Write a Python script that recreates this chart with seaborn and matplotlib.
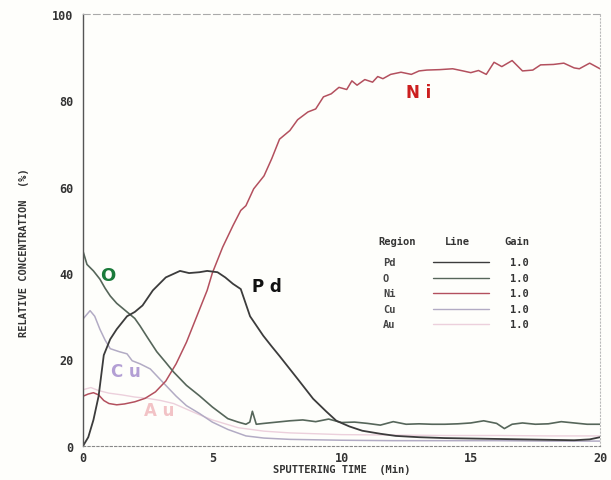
import matplotlib
matplotlib.use("Agg")
import matplotlib.pyplot as plt
import seaborn as sns
import pandas as pd
from matplotlib.ticker import MultipleLocator

# depth profile data (time in min, concentration in %)
ni_t = [0, 0.2, 0.4, 0.6, 0.8, 1.0, 1.3, 1.6, 2.0, 2.4, 2.8, 3.2, 3.6, 4.0, 4.4, 4.8, 5.0,
        5.4, 5.8, 6.1, 6.3, 6.6, 7.0, 7.3, 7.6, 8.0, 8.3, 8.7, 9.0, 9.3, 9.6, 9.9, 10.2,
        10.4, 10.6, 10.9, 11.2, 11.4, 11.6, 11.9, 12.3, 12.7, 13.0, 13.3, 13.8, 14.3, 14.7,
        15.0, 15.3, 15.6, 15.9, 16.2, 16.6, 17.0, 17.4, 17.7, 18.2, 18.6, 19.0, 19.2, 19.6, 20.0]
ni_c = [11.5, 12, 12.3, 11.8, 10.5, 9.8, 9.5, 9.7, 10.2, 11, 12.5, 15, 19, 24, 30, 36, 40,
        46, 51, 54.5, 55.6, 59.5, 62.5, 66.5, 71, 73, 75.5, 77.3, 78, 80.8, 81.5, 83, 82.5,
        84.5, 83.5, 84.8, 84.2, 85.5, 85, 86, 86.5, 86, 86.8, 87, 87.1, 87.3, 86.8,
        86.4, 86.9, 86, 88.8, 87.8, 89.2, 86.8, 87, 88.2, 88.3, 88.6, 87.5, 87.3, 88.6, 87.3]

pd_t = [0, 0.2, 0.4, 0.6, 0.8, 1.05, 1.3, 1.7, 2.0, 2.3, 2.7, 3.2, 3.75, 4.1, 4.5, 4.8, 5.2,
        5.5, 5.8, 6.1, 6.46, 6.97, 7.3, 7.6, 8.3, 8.9, 9.4, 9.8, 10.3, 10.8, 11.5, 12.1, 13,
        14, 15, 16, 17, 18, 19, 19.6, 20]
pd_c = [0, 2, 6, 11.5, 21, 24.7, 27, 30, 31, 32.5, 36, 39, 40.5, 40, 40.2, 40.5, 40.2,
        39, 37.5, 36.3, 30, 25.5, 23, 20.8, 15.5, 10.9, 8, 5.8, 4.5, 3.5, 2.8, 2.3, 2,
        1.8, 1.7, 1.6, 1.5, 1.4, 1.3, 1.5, 2]

o_t = [0, 0.15, 0.4, 0.65, 0.85, 1.05, 1.3, 1.7, 2.0, 2.2, 2.5, 2.85, 3.2, 3.5, 4.0, 4.5,
       5.0, 5.6, 6.0, 6.3, 6.45, 6.55, 6.7, 7.0, 7.5, 8.0, 8.5, 9.0, 9.5, 10, 10.5, 11,
       11.5, 12, 12.5, 13, 13.5, 14, 14.5, 15, 15.5, 16, 16.3, 16.6, 17, 17.5, 18, 18.5,
       19, 19.5, 20]
o_c = [45, 42, 40.5, 38.6, 36.5, 34.7, 33, 31, 29.5, 27.8, 25, 21.8, 19.3, 17.1, 14, 11.6,
       9, 6.3, 5.5, 5, 5.5, 8, 5, 5.2, 5.5, 5.8, 6, 5.6, 6.2, 5.4, 5.5, 5.2,
       4.8, 5.6, 5.0, 5.1, 5, 5.0, 5.1, 5.3, 5.8, 5.2, 4, 5.0, 5.3, 5.0, 5.1, 5.6,
       5.3, 5.0, 5.0]

cu_t = [0, 0.27, 0.45, 0.65, 0.85, 1.05, 1.4, 1.7, 1.9, 2.2, 2.6, 3.2, 3.6, 4.0, 4.5, 5.0,
        5.6, 6.3, 7, 8, 9, 10, 12, 14, 16, 18, 20]
cu_c = [29.4, 31.3, 30, 27, 24.5, 22.5, 21.8, 21.3, 19.7, 19, 17.8, 14, 11.5, 9.3, 7.5, 5.5,
        3.8, 2.3, 1.8, 1.5, 1.4, 1.3, 1.2, 1.2, 1.2, 1.1, 1.1]

au_t = [0, 0.3, 0.6, 1.0, 1.5, 2.0, 2.5, 3.0, 3.5, 4.0, 4.5, 5.0, 6.0, 7.0, 8.0, 10, 12, 14, 16, 18, 20]
au_c = [13, 13.5, 12.8, 12.2, 11.8, 11.3, 11, 10.5, 9.8, 8.5, 7.2, 6, 4.2, 3.4, 3.0, 2.6, 2.5, 2.4, 2.4, 2.3, 2.3]

names = ["Pd", "O", "Ni", "Cu", "Au"]
colors = {"Pd": "#3c3c3c", "O": "#56665a", "Ni": "#b3505e", "Cu": "#b2abc4", "Au": "#ecd0dc"}
widths = {"Pd": 1.3, "O": 1.2, "Ni": 1.1, "Cu": 1.1, "Au": 1.0}

frames = []
for nm, t, c in [("Pd", pd_t, pd_c), ("O", o_t, o_c), ("Ni", ni_t, ni_c),
                 ("Cu", cu_t, cu_c), ("Au", au_t, au_c)]:
    frames.append(pd.DataFrame({"time": t, "conc": c, "element": nm}))
df = pd.concat(frames, ignore_index=True)

sns.set_style("white")
plt.rcParams["font.family"] = ["DejaVu Sans Mono", "DejaVu Sans"]

fig = plt.figure(figsize=(6.11, 4.81), dpi=100, facecolor="#fefefb")
ax = fig.add_axes([0.136, 0.071, 0.846, 0.898])
ax.set_facecolor("#fefefb")

for nm in ["Au", "Cu", "Ni", "O", "Pd"]:
    sns.lineplot(data=df[df.element == nm], x="time", y="conc", ax=ax,
                 color=colors[nm], lw=widths[nm], legend=False, sort=False)

ax.set_xlim(0, 20)
ax.set_ylim(0, 100)
ax.xaxis.set_major_locator(MultipleLocator(5))
ax.xaxis.set_minor_locator(MultipleLocator(1))
ax.yaxis.set_major_locator(MultipleLocator(20))
ax.yaxis.set_minor_locator(MultipleLocator(5))
ax.tick_params(axis="both", which="major", direction="inout", length=6, width=1.4,
               color="#555555", labelsize=8.5, labelcolor="#333333")
ax.tick_params(axis="both", which="minor", direction="inout", length=3, width=1.4,
               color="#666666")
ax.tick_params(axis="x", pad=1)
ax.tick_params(axis="y", pad=4)
for lab in ax.get_xticklabels() + ax.get_yticklabels():
    lab.set_fontweight("bold")

ax.spines["left"].set_color("#555555")
ax.spines["left"].set_linewidth(1.0)
ax.spines["bottom"].set_color("#888888")
ax.spines["bottom"].set_linestyle((0, (2, 2)))
ax.spines["top"].set_color("#aaaaaa")
ax.spines["top"].set_linestyle((0, (6, 3)))
ax.spines["right"].set_color("#bbbbbb")
ax.spines["right"].set_linestyle((0, (1, 2)))

ax.set_xlabel("SPUTTERING TIME  (Min)", fontsize=7.5, fontweight="bold", color="#333333",
              labelpad=0)
ax.set_ylabel("RELATIVE CONCENTRATION  (%)", fontsize=7.5, fontweight="bold", color="#333333",
              labelpad=22)
ax.yaxis.set_label_coords(-0.105, 0.45)

# element labels on the curves
ax.text(0.97, 39.6, "O", color="#1a7a3a", fontsize=13, fontweight="bold",
        family="DejaVu Sans", ha="center", va="center")
ax.text(7.1, 37, "P d", color="#111111", fontsize=12, fontweight="bold",
        family="DejaVu Sans", ha="center", va="center")
ax.text(13.0, 82, "N i", color="#cc1f1f", fontsize=12, fontweight="bold",
        family="DejaVu Sans", ha="center", va="center")
ax.text(1.65, 17.3, "C u", color="#b39fd4", fontsize=12, fontweight="bold",
        family="DejaVu Sans", ha="center", va="center")
ax.text(2.95, 8.3, "A u", color="#f2c3c6", fontsize=12, fontweight="bold",
        family="DejaVu Sans", ha="center", va="center")

# legend table: Region / Line / Gain
tr = ax.transAxes
ax.text(0.572, 0.468, "Region", transform=tr, fontsize=7.5, fontweight="bold", color="#333333")
ax.text(0.70, 0.468, "Line", transform=tr, fontsize=7.5, fontweight="bold", color="#333333")
ax.text(0.815, 0.468, "Gain", transform=tr, fontsize=7.5, fontweight="bold", color="#333333")
for i, nm in enumerate(names):
    yy = 0.425 - i * 0.036
    ax.text(0.58, yy, nm, transform=tr, fontsize=7.5, fontweight="bold", color="#444444",
            va="center")
    ax.plot([0.676, 0.785], [yy, yy], transform=tr, color=colors[nm], lw=1.0)
    ax.text(0.825, yy, "1.0", transform=tr, fontsize=7.5, fontweight="bold",
            color="#333333", va="center")

fig.savefig("out.png", dpi=100, facecolor=fig.get_facecolor())
